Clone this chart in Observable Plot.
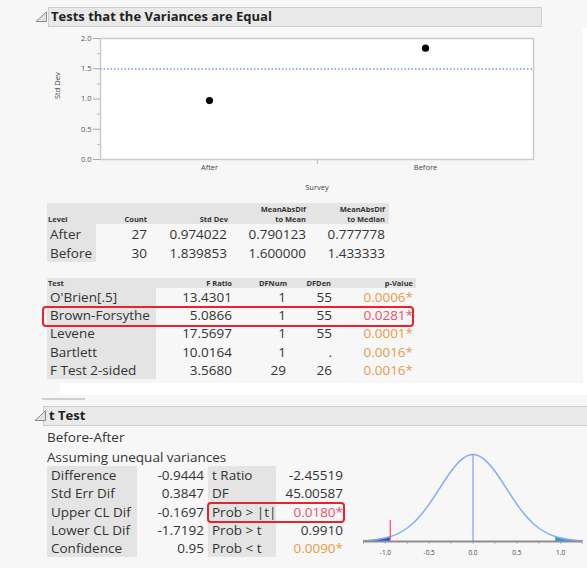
<!DOCTYPE html>
<html>
<head>
<meta charset="utf-8">
<script src="https://cdn.jsdelivr.net/npm/d3@7"></script>
<script src="https://cdn.jsdelivr.net/npm/@observablehq/plot@0.6"></script>
<style>
  html, body { margin: 0; padding: 0; background: #f7f7f7; }
  #page { position: relative; width: 587px; height: 568px; overflow: hidden; background: #f7f7f7; font-family: "Open Sans", "Noto Sans", sans-serif; color: #333; }
  .abs { position: absolute; white-space: nowrap; }
  .hdr { position: absolute; background: #e9e9e9; border: 1px solid #cdcdcd; box-sizing: border-box; }
  .cellbg { position: absolute; background: #e4e4e4; }
  .redbox { position: absolute; border: 2px solid #e8232e; border-radius: 4px; box-sizing: border-box; }
</style>
</head>
<body>
<div id="page"></div>
<script>
// ---- Survey spread by level ----
const levels = ["After", "Before"];
const counts = [27, 30];
const stdDevs = [0.974022, 1.839853];
const meanAbsDifToMean = ["0.790123", "1.600000"];
const meanAbsDifToMedian = ["0.777778", "1.433333"];
const pooledStdDev = 1.494;

// ---- Equal-variance tests ----
const tests = ["O'Brien[.5]", "Brown-Forsythe", "Levene", "Bartlett", "F Test 2-sided"];
const fRatios = ["13.4301", "5.0866", "17.5697", "10.0164", "3.5680"];
const dfNum = ["1", "1", "1", "1", "29"];
const dfDen = ["55", "55", "55", ".", "26"];
const pValues = [0.0006, 0.0281, 0.0001, 0.0016, 0.0016];

// ---- Welch t test ----
const tLeftLabels = ["Difference", "Std Err Dif", "Upper CL Dif", "Lower CL Dif", "Confidence"];
const tLeftValues = ["-0.9444", "0.3847", "-0.1697", "-1.7192", "0.95"];
const tRightLabels = ["t Ratio", "DF", "Prob > |t|", "Prob > t", "Prob < t"];
const tRightValues = ["-2.45519", "45.00587", "0.0180", "0.9910", "0.0090"];
const tRightIsProb = [false, false, true, true, true];
const difference = -0.9444;

// Null distribution of the difference (relative density)
const distX = [-1.25, -1.125, -1.0, -0.9444, -0.875, -0.75, -0.625, -0.5, -0.375, -0.25, -0.125, 0,
               0.125, 0.25, 0.375, 0.5, 0.625, 0.75, 0.875, 0.9444, 1.0, 1.125, 1.25];
const distY = [0.008, 0.018, 0.040, 0.056, 0.082, 0.155, 0.27, 0.43, 0.62, 0.807, 0.947, 1.0,
               0.947, 0.807, 0.62, 0.43, 0.27, 0.155, 0.082, 0.056, 0.040, 0.018, 0.008];
const distTicks = [-1.25, -1.0, -0.75, -0.5, -0.25, 0, 0.25, 0.5, 0.75, 1.0, 1.25];
const distTickLabels = ["", "-1.0", "", "-0.5", "", "0.0", "", "0.5", "", "1.0", ""];

const page = document.getElementById("page");
const W = 587;

function txt(s, x, y, opt = {}) {
  const size = opt.size || 13.5;
  const lh = Math.round(size * 1.3);
  const d = document.createElement("div");
  d.className = "abs";
  d.textContent = s;
  d.style.fontSize = size + "px";
  d.style.lineHeight = lh + "px";
  d.style.top = (y - lh / 2) + "px";
  d.style.fontWeight = opt.weight || 400;
  d.style.color = opt.color || "#333";
  if (opt.anchor === "end") {
    d.style.right = (W - x) + "px";
    d.style.textAlign = "right";
  } else {
    d.style.left = x + "px";
  }
  page.appendChild(d);
  return d;
}
function box(cls, x, y, w, h) {
  const d = document.createElement("div");
  d.className = cls;
  Object.assign(d.style, {left: x + "px", top: y + "px", width: w + "px", height: h + "px"});
  page.appendChild(d);
  return d;
}
function triangle(x, y) {
  const ns = "http://www.w3.org/2000/svg";
  const s = document.createElementNS(ns, "svg");
  s.setAttribute("width", 13); s.setAttribute("height", 12);
  s.style.position = "absolute"; s.style.left = x + "px"; s.style.top = y + "px";
  const p = document.createElementNS(ns, "polygon");
  p.setAttribute("points", "11.5,0.8 11.5,10.5 1,10.5");
  p.setAttribute("fill", "#e2e2e2"); p.setAttribute("stroke", "#8a8a8a"); p.setAttribute("stroke-width", "1");
  s.appendChild(p);
  page.appendChild(s);
}
const pColor = p => p < 0.01 ? "#ea9a48" : (p < 0.05 ? "#ee4f6c" : "#333");
const pText = p => p.toFixed(4) + (p < 0.05 ? "*" : "");

// page panels
box("abs", 583, 28, 4, 355).style.background = "#ffffff";
box("abs", 60, 383, 527, 12).style.background = "#ffffff";

// ---- Section 1 header ----
box("hdr", 48, 7, 494, 20);
triangle(35, 11);
txt("Tests that the Variances are Equal", 51, 16.5, {size: 13, weight: 700, color: "#222"});

// ---- Std Dev plot ----
const sdChart = Plot.plot({
  width: 520, height: 170,
  marginLeft: 60, marginRight: 27, marginTop: 10, marginBottom: 39,
  style: {fontFamily: "Open Sans, sans-serif", background: "transparent", overflow: "visible"},
  x: {type: "band", domain: levels, padding: 0, axis: null},
  y: {domain: [0, 2], axis: null},
  marks: [
    Plot.frame({fill: "white", stroke: "#cccccc", strokeWidth: 1.5}),
    Plot.axisY({ticks: [0, 0.5, 1, 1.5, 2], tickSize: 7, tickPadding: 2, tickFormat: d => d.toFixed(1),
                fontSize: 7.5, stroke: "#aaa", fill: "#555", label: null}),
    Plot.axisY({ticks: [0.25, 0.75, 1.25, 1.75], tickSize: 3, text: null, stroke: "#bbb", label: null}),
    Plot.axisX({tickSize: 0, tickPadding: 5, fontSize: 7.5, fill: "#444", label: null}),
    Plot.axisX({ticks: ["Before"], tickSize: 5, text: null, dx: -108.25, stroke: "#bbb", label: null}),
    Plot.ruleY([pooledStdDev], {stroke: "#7098ff", strokeWidth: 1.5, strokeDasharray: "1.5,2"}),
    Plot.dot(levels, {x: d => d, y: (d, i) => stdDevs[i], r: 3.6, fill: "black", stroke: "none"}),
    Plot.text(["Survey"], {frameAnchor: "bottom", dy: 30, fontSize: 7.5, fill: "#444"}),
    Plot.text(["Std Dev"], {frameAnchor: "left", dx: -43, rotate: -90, fontSize: 7.5, fill: "#444"})
  ]
});
Object.assign(sdChart.style, {position: "absolute", left: "40px", top: "28px"});
page.appendChild(sdChart);

// ---- Level table ----
box("cellbg", 47, 203, 342, 21);
box("cellbg", 47, 224, 49, 38);
const smallHdr = {size: 7.5, weight: 700, color: "#333"};
txt("Level", 48, 219, smallHdr);
txt("Count", 147, 219, {...smallHdr, anchor: "end"});
txt("Std Dev", 228, 219, {...smallHdr, anchor: "end"});
txt("MeanAbsDif", 306, 209, {...smallHdr, anchor: "end"});
txt("to Mean", 306, 219, {...smallHdr, anchor: "end"});
txt("MeanAbsDif", 385, 209, {...smallHdr, anchor: "end"});
txt("to Median", 385, 219, {...smallHdr, anchor: "end"});
const levelRowY = [234, 253];
levels.forEach((lv, i) => {
  const y = levelRowY[i];
  txt(lv, 50, y);
  txt(String(counts[i]), 147, y, {anchor: "end"});
  txt(stdDevs[i].toFixed(6), 227, y, {anchor: "end"});
  txt(meanAbsDifToMean[i], 306, y, {anchor: "end"});
  txt(meanAbsDifToMedian[i], 385, y, {anchor: "end"});
});

// ---- Test table ----
box("cellbg", 47, 278, 369, 10);
box("cellbg", 47, 288, 109, 91);
txt("Test", 48, 283, smallHdr);
txt("F Ratio", 232, 283, {...smallHdr, anchor: "end"});
txt("DFNum", 287, 283, {...smallHdr, anchor: "end"});
txt("DFDen", 331, 283, {...smallHdr, anchor: "end"});
txt("p-Value", 413, 283, {...smallHdr, anchor: "end"});
const testRowY = [297, 315, 333, 352, 370];
tests.forEach((t, i) => {
  const y = testRowY[i];
  txt(t, 50, y);
  txt(fRatios[i], 232, y, {anchor: "end"});
  txt(dfNum[i], 286, y, {anchor: "end"});
  txt(dfDen[i], 332, y, {anchor: "end"});
  txt(pText(pValues[i]), 413, y, {anchor: "end", color: pColor(pValues[i])});
});
box("redbox", 42, 306, 372, 21);

// ---- Section 2: t Test ----
box("abs", 42, 398, 43, 2).style.background = "#cfcfcf";
box("hdr", 43, 406, 550, 20);
triangle(34, 410);
txt("t Test", 49, 415.5, {size: 13, weight: 700, color: "#222"});
txt("Before-After", 47, 437);
txt("Assuming unequal variances", 47, 457);

box("cellbg", 47, 466, 90, 91);
box("cellbg", 208, 466, 68, 91);
const tRowY = [475, 493, 512, 530, 548];
tLeftLabels.forEach((l, i) => {
  const y = tRowY[i];
  txt(l, 51, y);
  txt(tLeftValues[i], 204, y, {anchor: "end"});
  txt(tRightLabels[i], 212, y);
  const v = tRightValues[i];
  const p = tRightIsProb[i] ? +v : null;
  txt(p !== null && p < 0.05 ? v + "*" : v, 343, y, {anchor: "end", color: p !== null ? pColor(p) : "#333"});
});
box("redbox", 207, 502, 138, 21);

// ---- Null distribution of the difference ----
const dist = distX.map((x, i) => ({x, y: distY[i]}));
const leftTail = dist.filter(d => d.x <= difference);
const rightTail = dist.filter(d => d.x >= -difference);
const distChart = Plot.plot({
  width: 237, height: 138,
  marginLeft: 13, marginRight: 5, marginTop: 24, marginBottom: 27,
  style: {fontFamily: "Open Sans, sans-serif", background: "transparent", overflow: "visible"},
  x: {domain: [-1.25, 1.25], axis: null},
  y: {domain: [0, 1], axis: null},
  marks: [
    Plot.areaY(leftTail, {x: "x", y: "y", fill: "#1e4ed6", curve: "natural"}),
    Plot.areaY(rightTail, {x: "x", y: "y", fill: "#1aa3c8", curve: "natural"}),
    Plot.line(dist, {x: "x", y: "y", stroke: "#86aaff", strokeWidth: 1.5, curve: "natural"}),
    Plot.ruleX([0], {y1: 0, y2: 1, stroke: "#7ea2ff", strokeWidth: 1.2}),
    Plot.ruleX([difference], {y1: 0, y2: 0.24, stroke: "#ff4a5a", strokeWidth: 1.2}),
    Plot.axisX({ticks: distTicks, tickSize: 3, tickPadding: 6, stroke: "#bbb", fill: "#444", fontSize: 6.5,
                tickFormat: d => distTickLabels[distTicks.indexOf(d)], label: null}),
    Plot.ruleY([0], {stroke: "#8e8e8e", strokeWidth: 2})
  ]
});
Object.assign(distChart.style, {position: "absolute", left: "350px", top: "430px"});
page.appendChild(distChart);
</script>
</body>
</html>
